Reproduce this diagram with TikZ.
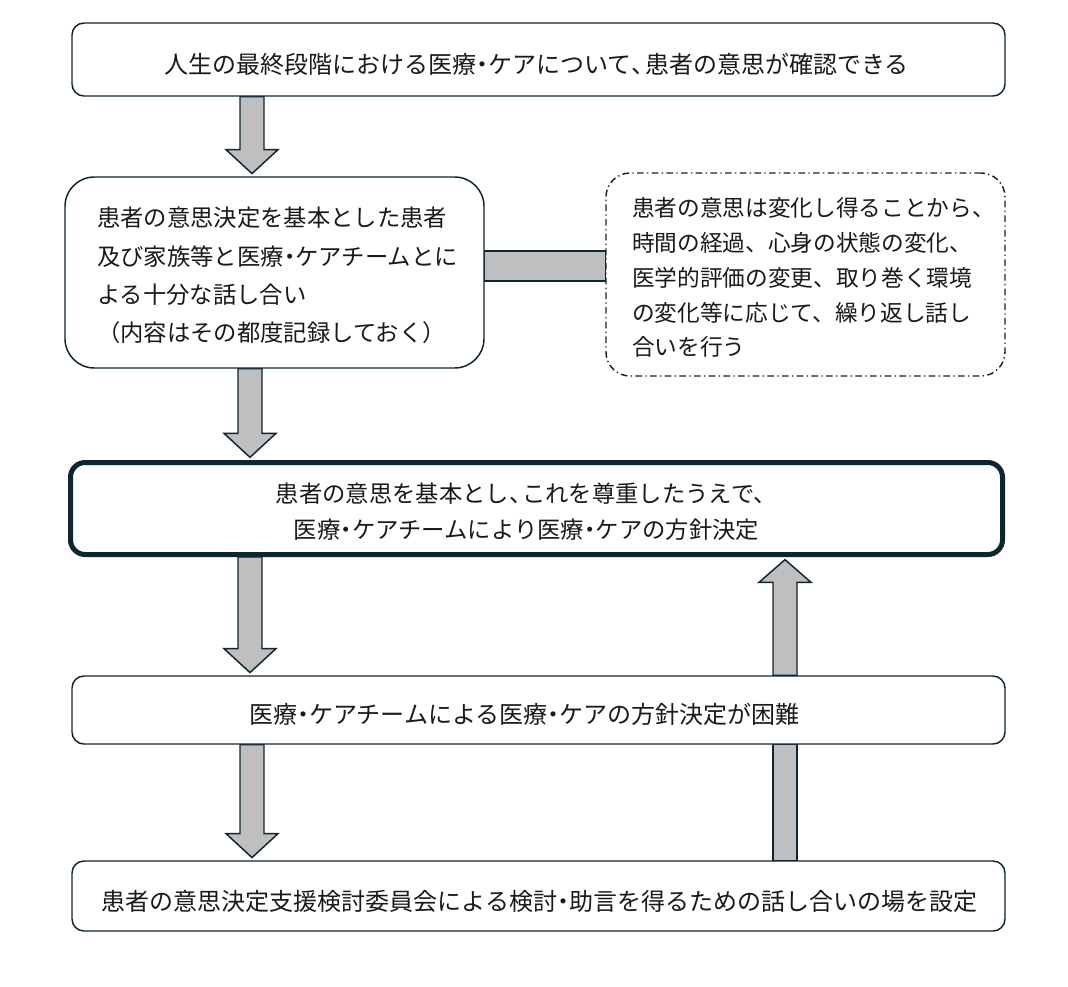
\documentclass[tikz,border=0pt]{standalone}
\usepackage{fontspec}
\newfontfamily\jp{Noto Sans CJK JP}
\usetikzlibrary{calc,backgrounds}
\definecolor{ink}{HTML}{0F2532}
\definecolor{shaftgray}{HTML}{BFBFBF}
\newcommand{\ndot}{\makebox[0.5em]{・}}
\newcommand{\ncomma}{\makebox[0.55em][l]{、}}
\newcommand{\blkdn}[3]{%
  \draw[blk] let \p1=(#1|-#2.south), \p2=(#1|-#3.north) in
    (\x1-9pt,\y1) -- (\x1-9pt,\y2+20pt) -- (\x1-19.5pt,\y2+20pt) -- (\x2,\y2+2pt)
    -- (\x1+19.5pt,\y2+20pt) -- (\x1+9pt,\y2+20pt) -- (\x1+9pt,\y1) -- cycle;}
\newcommand{\blkup}[3]{%
  \draw[blk] let \p1=(#1|-#2.north), \p2=(#1|-#3.south) in
    (\x1-9pt,\y1) -- (\x1-9pt,\y2-19pt) -- (\x1-19.5pt,\y2-19pt) -- (\x2,\y2-2pt)
    -- (\x1+19.5pt,\y2-19pt) -- (\x1+9pt,\y2-19pt) -- (\x1+9pt,\y1) -- cycle;}
\begin{document}
\begin{tikzpicture}[x=0.75pt,y=-0.75pt,
  box/.style={draw=ink,line width=1.1pt,rounded corners=9pt,fill=white,inner sep=0pt},
  txt/.style={inner sep=0pt,font=\jp\fontsize{17.5}{27}\selectfont,text=black!90},
  big/.style={font=\jp\fontsize{18}{27}\selectfont},
  blk/.style={draw=ink,fill=shaftgray,line width=1.1pt,line join=miter}]
\useasboundingbox (0,0) rectangle (1068,986);
\node[box,minimum width=699.75pt,minimum height=54.75pt] (b1) at (538.5,59.5) {};
\node[txt,big] (t1) at ($(b1.center)+(-2,4.5)$)
  {人生の最終段階における医療\ndot ケアについて\ncomma 患者の意思が確認できる};
\node[box,rounded corners=22pt,minimum width=314.25pt,minimum height=143.25pt] (b2) at (274.5,272.5) {};
\node[txt,align=left,font=\jp\fontsize{17.5}{28.7}\selectfont] (t2) at ($(b2.center)+(3,3)$)
  {患者の意思決定を基本とした患者\\及び家族等と医療\ndot ケアチームとに\\よる十分な話し合い\\（内容はその都度記録しておく）};
\node[box,dash pattern=on 5pt off 2.5pt on 1pt off 2.5pt,rounded corners=18pt,
  minimum width=299.25pt,minimum height=152.25pt] (b3) at (805.5,274.5) {};
\node[txt,align=left,font=\jp\fontsize{17}{26.2}\selectfont] (t3) at ($(b3.center)+(8,3)$)
  {患者の意思は変化し得ることから、\\時間の経過、心身の状態の変化、\\医学的評価の変更、取り巻く環境\\の変化等に応じて、繰り返し話し\\合いを行う};
\node[box,line width=3.75pt,rounded corners=11pt,minimum width=699pt,minimum height=69pt] (b4) at (536.5,508.5) {};
\node[txt,align=center] (t4) at ($(b4.center)+(-10,3.5)$)
  {患者の意思を基本とし\ncomma これを尊重したうえで、\\医療\ndot ケアチームにより医療\ndot ケアの方針決定};
\node[box,minimum width=699.75pt,minimum height=51pt] (b5) at (538.5,710) {};
\node[txt,big] (t5) at ($(b5.center)+(-14,4.5)$)
  {医療\ndot ケアチームによる医療\ndot ケアの方針決定が困難};
\node[box,minimum width=699.75pt,minimum height=52.5pt] (b6) at (538.5,896) {};
\node[txt,big] (t6) at ($(b6.center)+(1,5)$)
  {患者の意思決定支援検討委員会による検討\ndot 助言を得るための話し合いの場を設定};
\coordinate (xa) at (252,0);
\coordinate (xb) at (250,0);
\coordinate (xr) at (785,0);
\begin{scope}[on background layer]
  \blkdn{xa}{b1}{b2}
  \blkdn{xb}{b2}{b4}
  \blkdn{xb}{b4}{b5}
  \blkdn{xa}{b5}{b6}
  \blkup{xr}{b5}{b4}
  \draw[blk] ($(xr|-b6.north)+(-12,0)$) rectangle ($(xr|-b5.south)+(12,0)$);
  \draw[blk] ($(b2.east)+(0,-21.5)$) rectangle ($(b3.west|-b2.east)+(0,8.5)$);
\end{scope}
\end{tikzpicture}
\end{document}
